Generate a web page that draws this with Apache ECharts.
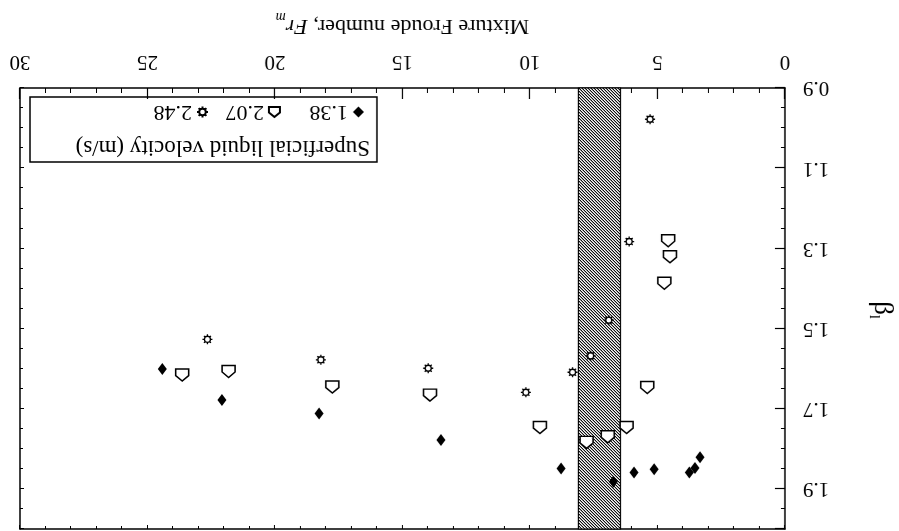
<!DOCTYPE html>
<html>
<head>
<meta charset="utf-8">
<title>Mixture Froude number vs beta_l</title>
<script src="https://cdn.jsdelivr.net/npm/echarts@6/dist/echarts.min.js"></script>
<style>
  html, body { margin: 0; padding: 0; background: #fff; }
  /* the source figure is printed upside down */
  #chart { width: 899px; height: 531px; transform: rotate(180deg); }
</style>
</head>
<body>
<div id="chart"></div>
<script>
// Superficial liquid velocity 1.38 m/s
const froude138 = [3.33, 3.53, 3.75, 5.13, 5.92, 6.73, 8.78, 13.49, 18.27, 22.08, 24.42];
const beta138 = [1.821, 1.848, 1.859, 1.851, 1.859, 1.882, 1.849, 1.778, 1.712, 1.678, 1.601];
// 2.07 m/s
const froude207 = [4.58, 4.51, 4.73, 5.40, 6.21, 6.95, 7.78, 9.61, 13.92, 17.75, 21.82, 23.64];
const beta207 = [1.281, 1.321, 1.387, 1.647, 1.747, 1.770, 1.784, 1.747, 1.666, 1.646, 1.607, 1.616];
// 2.48 m/s
const froude248 = [5.29, 6.11, 6.91, 7.62, 8.33, 10.16, 13.99, 18.20, 22.65];
const beta248 = [0.978, 1.283, 1.479, 1.568, 1.609, 1.659, 1.599, 1.578, 1.527];

const seriesNames = ['1.38', '2.07', '2.48'];
const bandRange = [6.45, 8.1];

const zip = (xs, ys) => xs.map((x, i) => [x, ys[i]]);

const serif = 'Liberation Serif';
const houseSymbol = 'path://M6,0 L12,5 L12,11 L0,11 L0,5 Z';
const sunSymbol = 'path://M16,10 A6,6 0 1,1 4,10 A6,6 0 1,1 16,10 Z M10,0 L10,4 M10,16 L10,20 M0,10 L4,10 M16,10 L20,10 M3,3 L5.8,5.8 M14.2,14.2 L17,17 M17,3 L14.2,5.8 M3,17 L5.8,14.2';

// hatch tile for the shaded band
const tile = document.createElement('canvas');
tile.width = 3;
tile.height = 3;
const tctx = tile.getContext('2d');
tctx.fillStyle = '#fff';
tctx.fillRect(0, 0, 3, 3);
tctx.fillStyle = '#000';
for (let r = 0; r < 3; r++) tctx.fillRect(r, r, 1, 1);
tctx.fillStyle = '#aaa';
for (let r = 0; r < 3; r++) tctx.fillRect((r + 1) % 3, r, 1, 1);

const chart = echarts.init(document.getElementById('chart'));

const axisLine = { show: true, onZero: false, lineStyle: { color: '#000', width: 1.5 } };
const legendText = { fontFamily: serif, fontSize: 22, color: '#000' };

function legendAt(name, left) {
  return {
    data: [name],
    left: left,
    top: 408,
    padding: 0,
    itemWidth: 11,
    itemHeight: 11,
    textStyle: legendText
  };
}

const option = {
  backgroundColor: '#fff',
  animation: false,
  grid: { left: 114, right: 20, top: 2, bottom: 88 },
  title: {
    text: 'Superficial liquid velocity (m/s)',
    left: 529,
    top: 372,
    padding: 0,
    textStyle: { fontFamily: serif, fontSize: 23, fontWeight: 'normal', color: '#000' }
  },
  legend: [
    legendAt(seriesNames[0], 535),
    legendAt(seriesNames[1], 618),
    legendAt(seriesNames[2], 690)
  ],
  graphic: [
    {
      type: 'rect',
      shape: { x: 522, y: 369, width: 347, height: 65 },
      style: { fill: 'none', stroke: '#000', lineWidth: 1.5 },
      z: 10
    },
    {
      // y axis title, beta with subscript l, reading bottom to top
      type: 'text',
      x: 17,
      y: 221,
      rotation: Math.PI / 2,
      style: {
        text: '{b|β}{s|l}',
        align: 'center',
        verticalAlign: 'middle',
        rich: {
          b: { fontFamily: serif, fontSize: 27, fill: '#000', lineHeight: 30 },
          s: { fontFamily: serif, fontSize: 14, fill: '#000', lineHeight: 30, verticalAlign: 'bottom' }
        }
      },
      z: 10
    }
  ],
  xAxis: [
    {
      type: 'value',
      min: 0,
      max: 30,
      interval: 5,
      position: 'bottom',
      axisLine: axisLine,
      axisTick: { inside: true, length: 11, lineStyle: { color: '#000', width: 1.2 } },
      minorTick: { show: true, splitNumber: 5, length: 5, lineStyle: { color: '#000', width: 1 } },
      splitLine: { show: false },
      axisLabel: { fontFamily: serif, fontSize: 21, color: '#000', margin: 16 },
      name: '{n|Mixture Froude number, }{i|Fr}{s|m}',
      nameLocation: 'middle',
      nameGap: 46,
      nameTextStyle: {
        rich: {
          n: { fontFamily: serif, fontSize: 22, color: '#000', lineHeight: 32 },
          i: { fontFamily: serif, fontSize: 22, fontStyle: 'italic', color: '#000', lineHeight: 32 },
          s: { fontFamily: serif, fontSize: 14, fontStyle: 'italic', color: '#000', lineHeight: 32, verticalAlign: 'bottom' }
        }
      }
    },
    {
      type: 'value',
      min: 0,
      max: 30,
      interval: 5,
      position: 'top',
      axisLine: axisLine,
      axisTick: { inside: true, length: 4, lineStyle: { color: '#000' } },
      minorTick: { show: true, splitNumber: 5, length: 3, lineStyle: { color: '#000' } },
      splitLine: { show: false },
      axisLabel: { show: false }
    }
  ],
  yAxis: [
    {
      type: 'value',
      min: 0.9,
      max: 2.0,
      interval: 0.2,
      position: 'left',
      axisLine: axisLine,
      axisTick: { inside: true, length: 10, lineStyle: { color: '#000', width: 1.2 } },
      minorTick: { show: true, splitNumber: 4, length: 4, lineStyle: { color: '#000', width: 1 } },
      splitLine: { show: false },
      axisLabel: {
        fontFamily: serif, fontSize: 21, color: '#000', margin: 18,
        formatter: v => (v > 1.95 ? '' : v.toFixed(1))
      }
    },
    {
      type: 'value',
      min: 0.9,
      max: 2.0,
      interval: 0.2,
      position: 'right',
      axisLine: axisLine,
      axisTick: { inside: true, length: 4, lineStyle: { color: '#000' } },
      minorTick: { show: true, splitNumber: 4, length: 3, lineStyle: { color: '#000' } },
      splitLine: { show: false },
      axisLabel: { show: false }
    }
  ],
  series: [
    {
      name: 'band',
      type: 'scatter',
      data: [],
      z: 1,
      silent: true,
      markArea: {
        silent: true,
        itemStyle: {
          color: { image: tile, repeat: 'repeat' },
          borderColor: '#000',
          borderWidth: 1.2
        },
        data: [[{ xAxis: bandRange[0] }, { xAxis: bandRange[1] }]]
      }
    },
    {
      name: seriesNames[0],
      type: 'scatter',
      z: 3,
      symbol: 'diamond',
      symbolSize: [9, 12],
      itemStyle: { color: '#000', opacity: 1 },
      data: zip(froude138, beta138)
    },
    {
      name: seriesNames[1],
      type: 'scatter',
      z: 3,
      symbol: houseSymbol,
      symbolSize: [13, 12],
      itemStyle: { color: '#fff', borderColor: '#000', borderWidth: 1.5, opacity: 1 },
      data: zip(froude207, beta207)
    },
    {
      name: seriesNames[2],
      type: 'scatter',
      z: 3,
      symbol: sunSymbol,
      symbolSize: 10,
      itemStyle: { color: '#fff', borderColor: '#000', borderWidth: 1.3, opacity: 1 },
      data: zip(froude248, beta248)
    }
  ]
};

chart.setOption(option);
</script>
</body>
</html>
